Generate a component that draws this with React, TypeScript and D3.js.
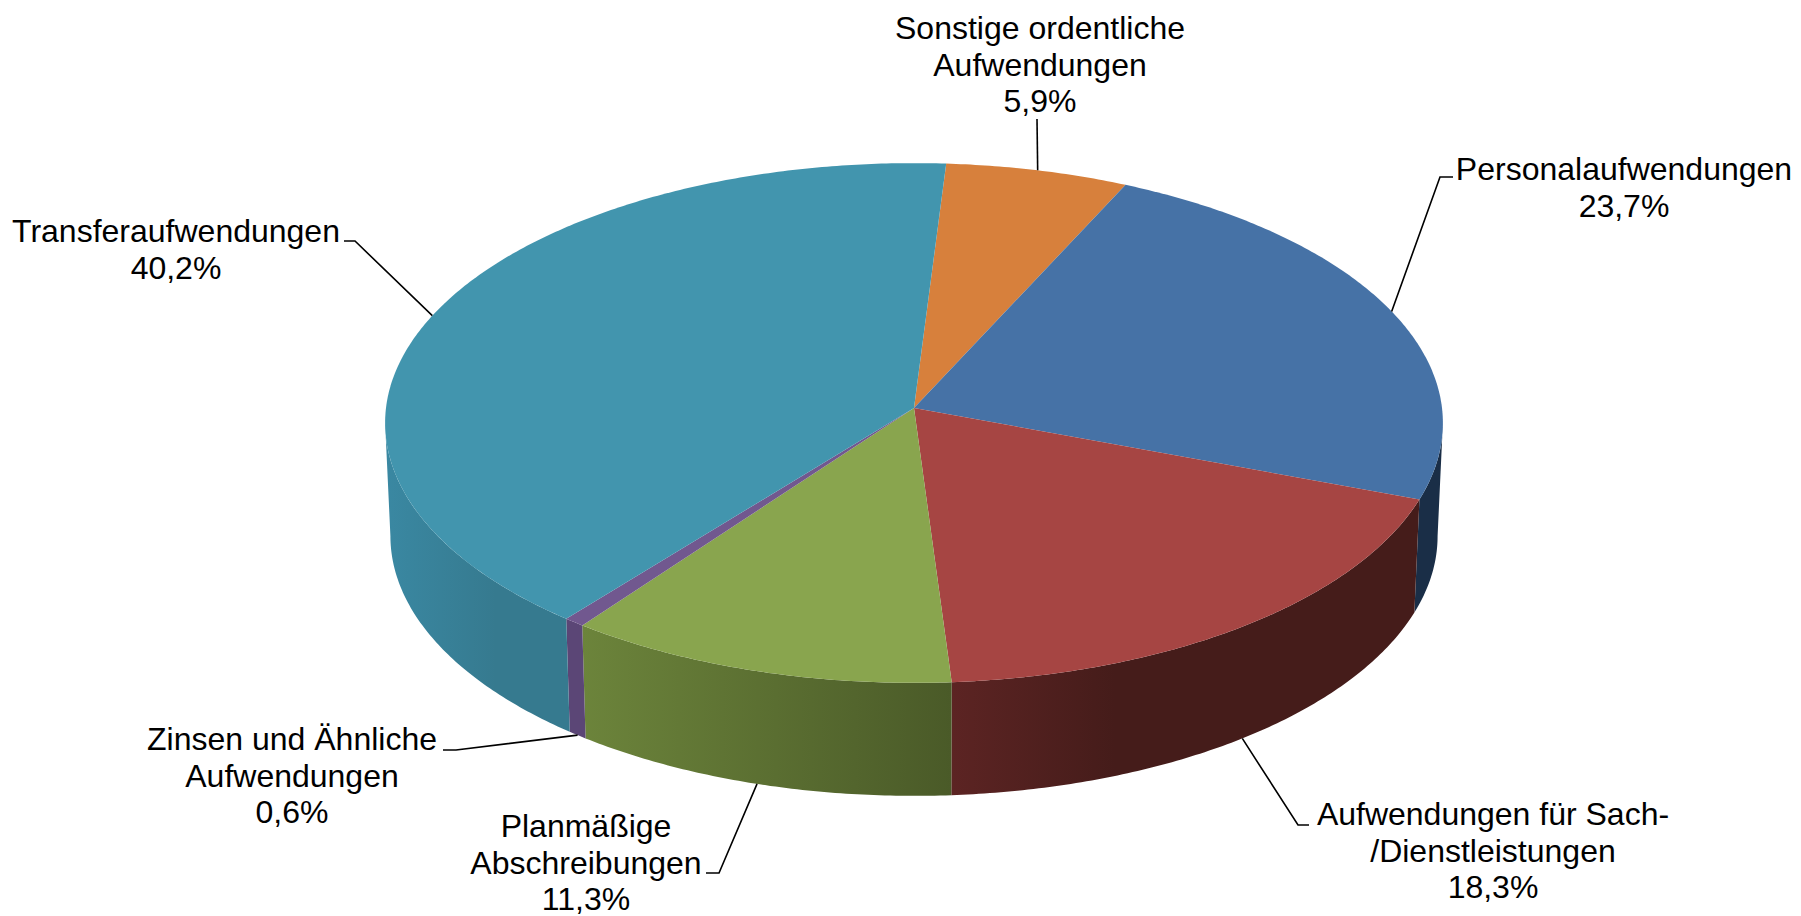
import React from 'react';
import * as d3 from 'd3';

// chart data, clockwise from the top of the pie
const categories = [
  'Sonstige ordentliche\nAufwendungen',
  'Personalaufwendungen',
  'Aufwendungen für Sach-\n/Dienstleistungen',
  'Planmäßige\nAbschreibungen',
  'Zinsen und Ähnliche\nAufwendungen',
  'Transferaufwendungen',
];
const shares = [5.9, 23.7, 18.3, 11.3, 0.6, 40.2];

const topColors = ['#D7803C', '#4672A6', '#A64543', '#89A54E', '#71588F', '#4295AE'];
const wallLeft = ['#A5602C', '#1A2E47', '#5C2423', '#6C843B', '#5B4676', '#3A88A2'];
const wallRight = ['#A5602C', '#1A2E47', '#451C1A', '#4A5A28', '#5B4676', '#367A8F'];
// where along the wall the right colour is reached
const wallStop = [1, 1, 0.35, 1, 1, 0.6];

// label centre x, first baseline y, then the elbow of the leader line
const labelX = [1040, 1624, 1493, 586, 292, 176];
const labelY = [39, 180, 825, 837, 750, 242];
const elbows: [number, number][][] = [
  [[1037, 119]],
  [[1453, 177], [1440, 177]],
  [[1309, 825], [1298, 825]],
  [[706, 873], [719, 873]],
  [[443, 750], [456, 750]],
  [[344, 241], [355, 241]],
];

const width = 1801;
const height = 916;
const cx = 914;
const cy = 408;
const rx = 528;
const ry = 259;
const persp = 0.0577; // the far edge of the pie is a bit flattened
const depth = 113;
const lineHeight = 36.6;
const startAngle = (3.7 * Math.PI) / 180;

const project = (a: number, lower = false): [number, number] => {
  const u = Math.sin(a);
  const v = -Math.cos(a);
  const w = 1 - persp * v;
  const s = lower ? 0.99 : 1;
  return [cx + (s * rx * u) / w, cy + (ry * v) / w + (lower ? depth : 0)];
};

const sample = (a0: number, a1: number) => {
  const n = Math.max(2, Math.ceil(Math.abs(a1 - a0) / 0.01));
  return d3.range(n + 1).map((i) => a0 + ((a1 - a0) * i) / n);
};

const line = d3.line();

const slices = d3
  .pie<number>()
  .sort(null)
  .startAngle(startAngle)
  .endAngle(startAngle + 2 * Math.PI)(shares);

const percent = (v: number) => d3.format('.1f')(v).replace('.', ',') + '%';

// the walls run between the two widest points of the ellipse
const frontFrom = Math.acos(-persp);
const frontTo = 2 * Math.PI - frontFrom;

export default function App() {
  const walls = slices
    .map((s) => {
      const a0 = Math.max(s.startAngle, frontFrom);
      const a1 = Math.min(s.endAngle, frontTo);
      if (a1 <= a0) return null;
      const top = sample(a0, a1).map((a) => project(a));
      const bottom = sample(a1, a0).map((a) => project(a, true));
      const xs = top.concat(bottom).map((p) => p[0]);
      return { i: s.index, d: line(top.concat(bottom)) + 'Z', x0: d3.min(xs)!, x1: d3.max(xs)! };
    })
    .filter((w) => w !== null);

  return (
    <svg
      width={width}
      height={height}
      style={{ position: 'absolute', left: 0, top: 0, display: 'block', background: '#fff' }}
      fontFamily="'Liberation Sans', Arial, sans-serif"
      fontSize={32}
    >
      <defs>
        {walls.map((w) => (
          <linearGradient key={w!.i} id={'wall' + w!.i} gradientUnits="userSpaceOnUse" x1={w!.x0} x2={w!.x1} y1={0} y2={0}>
            <stop offset="0" stopColor={wallLeft[w!.i]} />
            <stop offset={wallStop[w!.i]} stopColor={wallRight[w!.i]} />
          </linearGradient>
        ))}
      </defs>

      {walls.map((w) => (
        <path key={w!.i} d={w!.d} fill={`url(#wall${w!.i})`} />
      ))}

      {slices.map((s) => {
        const rim = sample(s.startAngle, s.endAngle).map((a) => project(a));
        return <path key={s.index} d={line([[cx, cy], ...rim])! + 'Z'} fill={topColors[s.index]} />;
      })}

      {slices.map((s) => {
        const mid = (s.startAngle + s.endAngle) / 2;
        const isFront = Math.cos(mid) < -0.3;
        const end = project(mid, isFront);
        return (
          <path
            key={s.index}
            d={line([...elbows[s.index], end])!}
            fill="none"
            stroke="#000"
            strokeWidth={1.6}
          />
        );
      })}

      {categories.map((c, i) => (
        <text key={i} textAnchor="middle" fill="#000">
          {c
            .split('\n')
            .concat(percent(shares[i]))
            .map((t, j) => (
              <tspan key={j} x={labelX[i]} y={labelY[i] + j * lineHeight}>
                {t}
              </tspan>
            ))}
        </text>
      ))}
    </svg>
  );
}
